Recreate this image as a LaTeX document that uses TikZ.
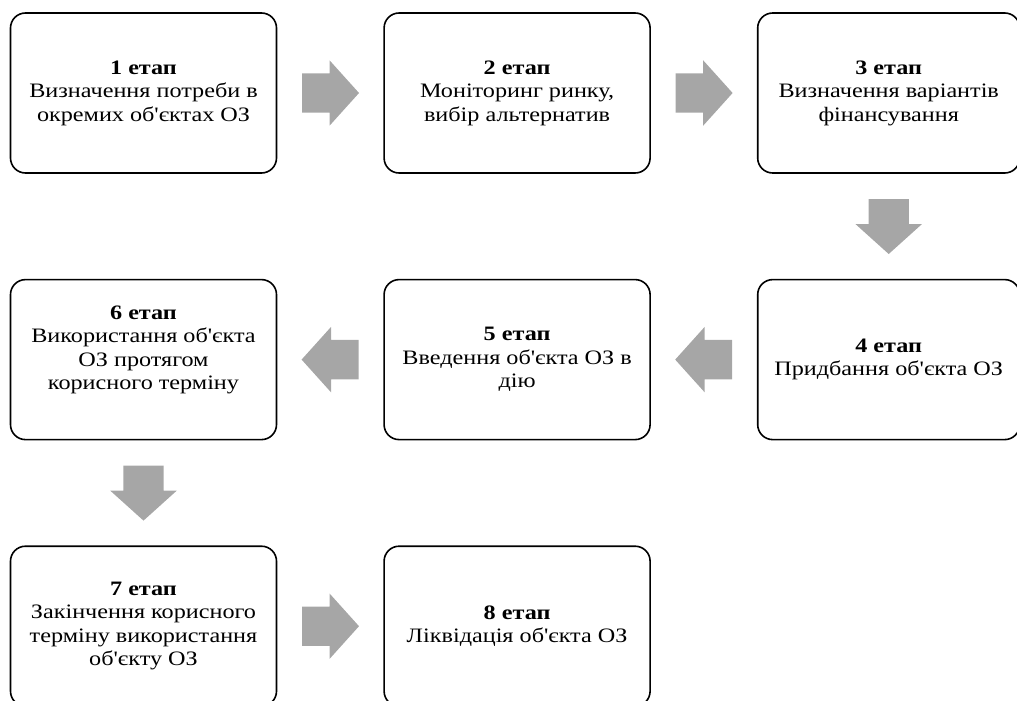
\documentclass[tikz,border=0pt]{standalone}
\usepackage{fontspec}
\setmainfont{Liberation Serif}[Ligatures=TeXOff, FakeStretch=1.18]
\usepackage{tikz}
\usetikzlibrary{positioning}
\usetikzlibrary{calc}
\usetikzlibrary{shapes.arrows}
\definecolor{flowgray}{HTML}{A6A6A6}
\tikzset{node distance=105pt and 106pt, % Gap between the stage boxes (vertical and horizontal)
stage/.style={ % Rounded box of one stage
draw,
line width=1.6pt,
rounded corners=15pt,
minimum width=266pt,
minimum height=160pt,
align=center,
font=\fontsize{20.5}{23.5}\selectfont},
flow/.style={ % Broad grey arrow from one stage to the next
single arrow,
draw=none,
fill=flowgray,
anchor=tail,
inner xsep=0pt,
inner ysep=19.5pt,
minimum height=57pt,
single arrow head extend=13pt,
single arrow tip angle=96},
flow right/.style={flow, xshift=-28.5pt},
flow left/.style={flow, shape border rotate=180, xshift=28.5pt},
flow down/.style={ % Same arrow, turned to point down
flow,
shape border rotate=270,
inner xsep=20pt,
inner ysep=0pt,
minimum height=55pt,
yshift=27.5pt}}

\begin{document}
\begin{tikzpicture}
					\useasboundingbox (0,0) rectangle (1017pt,-701pt);

					\node[stage] (s1) at (143.5pt,-93pt) {\textbf{1 етап}\\Визначення потреби в\\окремих об'єктах ОЗ};
					\node[stage, right=of s1] (s2) {\textbf{2 етап}\\Моніторинг ринку,\\вибір альтернатив};
					\node[stage, minimum width=262pt, right=of s2] (s3) {\textbf{3 етап}\\Визначення варіантів\\фінансування};
					\node[stage, minimum width=262pt, below=of s3] (s4) {\textbf{4 етап}\\Придбання об'єкта ОЗ};
					\node[stage, left=of s4] (s5) {\textbf{5 етап}\\Введення об'єкта ОЗ в\\дію};
					\node[stage, left=of s5] (s6) {\textbf{6 етап}\\Використання об'єкта\\ОЗ протягом\\корисного терміну\\\mbox{}};
					\node[stage, below=of s6] (s7) {\textbf{7 етап}\\Закінчення корисного\\терміну використання\\об'єкту ОЗ};
					\node[stage, right=of s7] (s8) {\textbf{8 етап}\\Ліквідація об'єкта ОЗ};

					% arrows sit halfway between two stages
					\node[flow right] (a12) at ($(s1.east)!0.5!(s2.west)$) {};
					\node[flow right] (a23) at ($(s2.east)!0.5!(s3.west)$) {};
					\node[flow down] (a34) at ($(s3.south)!0.5!(s4.north)$) {};
					\node[flow left] (a45) at ($(s4.west)!0.5!(s5.east)$) {};
					\node[flow left] (a56) at ($(s5.west)!0.5!(s6.east)$) {};
					\node[flow down] (a67) at ($(s6.south)!0.5!(s7.north)$) {};
					\node[flow right] (a78) at ($(s7.east)!0.5!(s8.west)$) {};
\end{tikzpicture}
\end{document}
